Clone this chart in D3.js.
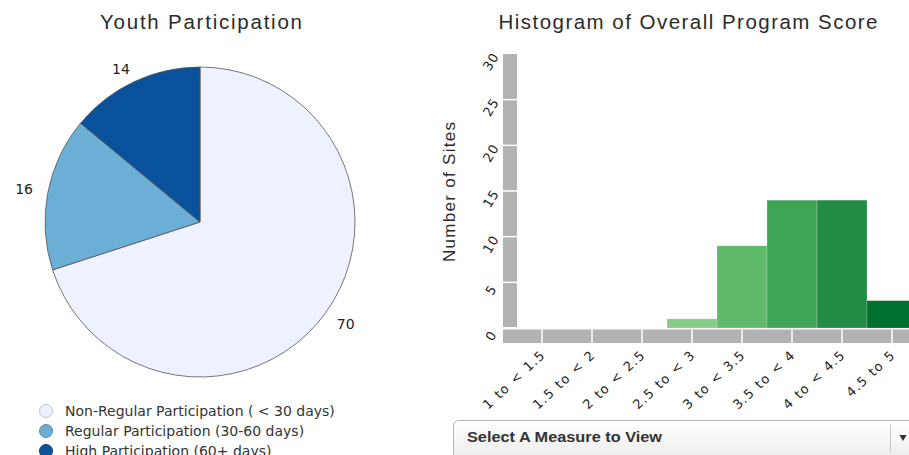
<!DOCTYPE html>
<html>
<head>
  <meta charset="utf-8">
  <title>Youth Participation / Program Score</title>
  <style>
    body { margin: 0; background: #fff; font-family: 'DejaVu Sans', sans-serif; }
    .title { font-family: 'Liberation Sans', Arial, sans-serif; font-size: 20.5px; fill: #2b2b2b; }
    .pie-label { font-size: 14px; fill: #222; }
    .legend text { font-size: 14px; fill: #333; }
    .tick text { font-family: 'DejaVu Sans', sans-serif; font-size: 13px; fill: #1e1e1e; letter-spacing: 1.1px; word-spacing: 1px; }
  </style>
</head>
<body>
  <div id="chart"></div>
  <script src="https://d3js.org/d3.v7.min.js"></script>
  <script>
    // pie data
    var pieNames = ["Non-Regular Participation ( < 30 days)", "Regular Participation (30-60 days)", "High Participation (60+  days)"];
    var pieValues = [70, 16, 14];
    var pieColors = ["#eef2fe", "#6baed6", "#0a519c"];

    // histogram data
    var bins = ["1 to < 1.5", "1.5 to < 2", "2 to < 2.5", "2.5 to < 3", "3 to < 3.5", "3.5 to < 4", "4 to < 4.5", "4.5 to 5"];
    var counts = [0, 0, 0, 1, 9, 14, 14, 3];
    var binColors = ["#d9f0d3", "#c7e9c0", "#a1d99b", "#86cc87", "#5fbb6a", "#3fa556", "#228c45", "#00702f"];
    var yTicks = [0, 5, 10, 15, 20, 25, 30];

    var svg = d3.select("#chart").append("svg")
      .attr("width", 909)
      .attr("height", 455);

    svg.append("rect").attr("width", 909).attr("height", 455).attr("fill", "#fff");

    // ****************** Pie ***************************
    svg.append("text")
      .attr("class", "title")
      .attr("x", 201).attr("y", 29)
      .attr("text-anchor", "middle")
      .attr("textLength", 202).attr("lengthAdjust", "spacing")
      .text("Youth Participation");

    var radius = 155;
    var pieG = svg.append("g").attr("transform", "translate(200,222)");

    var pie = d3.pie().sort(null);
    var arc = d3.arc().innerRadius(0).outerRadius(radius);
    var labelArc = d3.arc().innerRadius(174).outerRadius(174);
    var arcs = pie(pieValues);

    pieG.selectAll("path")
      .data(arcs)
      .enter().append("path")
      .attr("d", arc)
      .attr("fill", function(d, i) { return pieColors[i]; })
      .attr("stroke", "#555")
      .attr("stroke-width", 0.8);

    pieG.selectAll("text")
      .data(arcs)
      .enter().append("text")
      .attr("class", "pie-label")
      .attr("transform", function(d) {
        var c = labelArc.centroid(d);
        var dx = c[0] < 0 ? -5 : 5;
        var dy = c[1] < -100 ? 5 : 0;
        return "translate(" + (c[0] + dx) + "," + (c[1] + dy) + ")";
      })
      .attr("dy", "0.35em")
      .attr("text-anchor", "middle")
      .text(function(d) { return d.data; });

    // legend
    var legend = svg.append("g").attr("class", "legend");
    var li = legend.selectAll("g")
      .data(pieNames)
      .enter().append("g")
      .attr("transform", function(d, i) { return "translate(46," + (411 + i * 20) + ")"; });

    li.append("circle")
      .attr("r", 6.5)
      .attr("fill", function(d, i) { return pieColors[i]; })
      .attr("stroke", function(d, i) { return d3.color(pieColors[i]).darker(0.6); })
      .attr("stroke-width", 1);

    li.append("text")
      .attr("x", 19)
      .attr("dy", "0.35em")
      .text(function(d) { return d; });

    // ****************** Histogram ***************************
    svg.append("text")
      .attr("class", "title")
      .attr("x", 688).attr("y", 29)
      .attr("text-anchor", "middle")
      .attr("textLength", 379).attr("lengthAdjust", "spacing")
      .text("Histogram of Overall Program Score");

    var x = d3.scaleBand().domain(bins).range([517, 917]).padding(0);
    var y = d3.scaleLinear().domain([0, 30]).range([328, 54]);

    // y axis band
    svg.append("rect")
      .attr("x", 503).attr("y", y(30))
      .attr("width", 14).attr("height", y(0) - 1 - y(30))
      .attr("fill", "#b2b2b2");
    svg.selectAll("line.ysep")
      .data(yTicks.slice(1, -1))
      .enter().append("line")
      .attr("class", "ysep")
      .attr("x1", 503).attr("x2", 517)
      .attr("y1", function(d) { return y(d); })
      .attr("y2", function(d) { return y(d); })
      .attr("stroke", "#fff").attr("stroke-width", 1.5);

    // x axis band
    svg.append("rect")
      .attr("x", 503).attr("y", 329.5)
      .attr("width", 420).attr("height", 13.5)
      .attr("fill", "#b2b2b2");
    svg.selectAll("line.xsep")
      .data(bins)
      .enter().append("line")
      .attr("class", "xsep")
      .attr("y1", 329.5).attr("y2", 343)
      .attr("x1", function(d) { return x(d) + x.bandwidth() / 2; })
      .attr("x2", function(d) { return x(d) + x.bandwidth() / 2; })
      .attr("stroke", "#fff").attr("stroke-width", 1.5);

    // bars
    svg.selectAll("rect.bar")
      .data(bins)
      .enter().append("rect")
      .attr("class", "bar")
      .attr("x", function(d) { return x(d); })
      .attr("width", x.bandwidth())
      .attr("y", function(d, i) { return y(counts[i]); })
      .attr("height", function(d, i) { return y(0) - y(counts[i]); })
      .attr("fill", function(d, i) { return binColors[i]; })
      .attr("stroke", "rgba(255,255,255,0.35)")
      .attr("stroke-width", 0.6);

    // y axis labels
    var yAxis = svg.append("g")
      .call(d3.axisLeft(y).tickValues(yTicks).tickSize(0).tickFormat(d3.format("d")));
    yAxis.select(".domain").remove();
    yAxis.selectAll(".tick text")
      .attr("x", 0)
      .attr("dy", "0.35em")
      .attr("text-anchor", "middle")
      .attr("transform", "translate(491,7) rotate(-58)");

    // x axis labels
    var xAxis = svg.append("g")
      .call(d3.axisBottom(x).tickSize(0));
    xAxis.select(".domain").remove();
    xAxis.selectAll(".tick text")
      .attr("y", 0)
      .attr("dy", 0)
      .attr("text-anchor", "end")
      .attr("transform", "translate(4,356) rotate(-43)");

    // y axis title
    svg.append("text")
      .attr("transform", "translate(455,192) rotate(-90)")
      .attr("text-anchor", "middle")
      .attr("textLength", 140).attr("lengthAdjust", "spacing")
      .style("font-family", "'Liberation Sans', Arial, sans-serif")
      .style("font-size", "17px")
      .style("fill", "#2b2b2b")
      .text("Number of Sites");

    // ****************** Dropdown ***************************
    var defs = svg.append("defs");
    var grad = defs.append("linearGradient")
      .attr("id", "dd").attr("x1", 0).attr("y1", 0).attr("x2", 0).attr("y2", 1);
    grad.append("stop").attr("offset", "0%").attr("stop-color", "#ffffff");
    grad.append("stop").attr("offset", "100%").attr("stop-color", "#ececec");

    svg.append("rect")
      .attr("x", 453.5).attr("y", 420.5)
      .attr("width", 480).attr("height", 40)
      .attr("rx", 5)
      .attr("fill", "url(#dd)")
      .attr("stroke", "#b5b5b5");

    svg.append("text")
      .attr("x", 467).attr("y", 442)
      .attr("textLength", 195).attr("lengthAdjust", "spacingAndGlyphs")
      .style("font-family", "'Liberation Sans', Arial, sans-serif")
      .style("font-size", "14.5px")
      .style("font-weight", "bold")
      .style("fill", "#333")
      .text("Select A Measure to View");

    svg.append("line")
      .attr("x1", 890.5).attr("x2", 890.5)
      .attr("y1", 425).attr("y2", 452)
      .attr("stroke", "#c8c8c8");

    svg.append("path")
      .attr("d", d3.symbol().type(d3.symbolTriangle).size(22)())
      .attr("transform", "translate(903,437) rotate(180)")
      .attr("fill", "#333");
  </script>
</body>
</html>
